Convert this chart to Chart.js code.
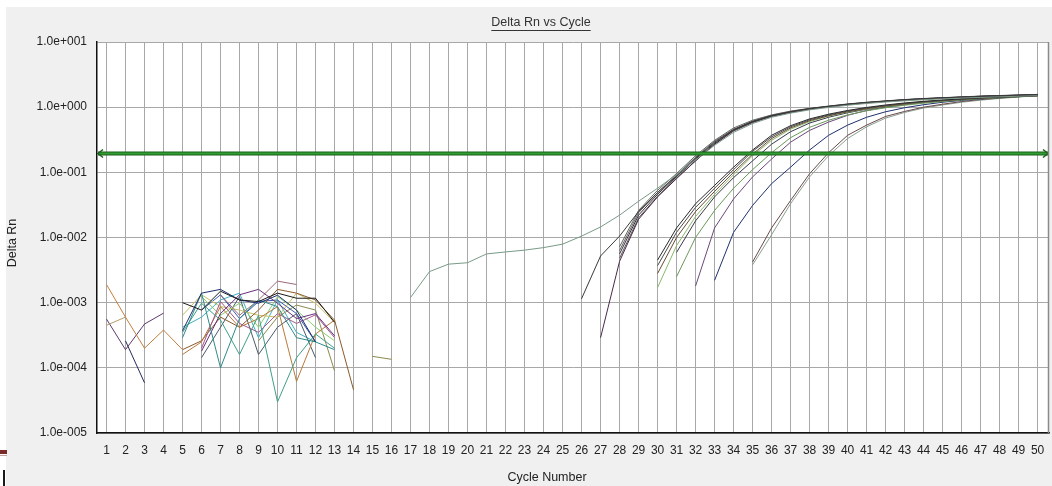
<!DOCTYPE html>
<html>
<head>
<meta charset="utf-8">
<script src="https://cdn.jsdelivr.net/npm/chart.js@4/dist/chart.umd.min.js"></script>
<style>
  html, body { margin: 0; padding: 0; background: #ffffff; }
  #c { display: block; }
</style>
</head>
<body>
<canvas id="c" width="1052" height="486"></canvas>
<script>
// ---- Axis ticks ----
const cycles = Array.from({ length: 50 }, (_, i) => i + 1);
const yTickValues = [1e-5, 1e-4, 1e-3, 1e-2, 1e-1, 1, 10];
const yTickLabels = ['1.0e-005', '1.0e-004', '1.0e-003', '1.0e-002', '1.0e-001', '1.0e+000', '1.0e+001'];
const threshold = 0.2;

// ---- Baseline noise traces (first cycle, then Delta Rn per cycle) ----
const noiseOrangeStart = 1, noiseOrange = [1.9e-3, 6.0e-4, 2.0e-4, 3.8e-4, 1.9e-4];
const noiseTanStart = 1, noiseTan = [4.5e-4, 6.0e-4];
const noisePlumStart = 1, noisePlum = [5.6e-4, 1.9e-4, 4.7e-4, 6.9e-4];
const noiseInkStart = 2, noiseInk = [2.6e-4, 5.9e-5];
const n01Start = 5, n01 = [1.0e-3, 7.7e-4, 1.5e-3, 1.1e-3, 1.04e-3, 1.4e-3, 1.17e-3, 1.17e-3, 5.0e-4];
const n02Start = 5, n02 = [3.7e-4, 1.4e-3, 1.6e-3, 1.1e-3, 9.8e-4, 1.3e-3, 7.7e-4, 2.5e-4];
const n03Start = 5, n03 = [2.9e-4, 1.4e-3, 1.0e-4, 5.7e-4, 1.1e-3, 8.7e-4, 2.9e-4, 2.5e-4, 1.9e-4];
const n04Start = 5, n04 = [3.5e-4, 9.8e-4, 5.4e-4, 1.6e-4, 6.4e-4, 3.0e-5, 1.43e-4, 3.3e-4, 2.0e-4];
const n05Start = 6, n05 = [1.8e-4, 6.8e-4, 1.32e-3, 1.6e-3, 9.8e-4, 5.7e-4, 6.8e-4, 3.1e-4];
const n06Start = 6, n06 = [2.0e-4, 1.04e-3, 4.8e-4, 3.5e-4, 6.8e-4, 4.8e-4, 6.5e-4, 2.9e-4];
const n07Start = 5, n07 = [1.6e-4, 2.5e-4, 8.7e-4, 4.2e-4, 5.7e-4, 8.7e-4, 6.2e-5, 3.3e-4, 5.4e-4];
const n08Start = 7, n08 = [1.32e-3, 6.4e-4, 1.1e-3, 2.14e-3, 1.9e-3];
const n09Start = 5, n09 = [1.9e-4, 2.6e-4, 6.0e-4, 4.2e-4, 7.7e-4, 1.6e-3, 1.4e-3, 1.1e-3, 5.4e-4, 4.6e-5];
const n10Start = 5, n10 = [6.4e-4, 1.32e-3, 8.7e-4, 7.7e-4, 6.4e-4, 6.0e-4, 1.4e-3, 9.8e-4, 5.0e-4];
const n11Start = 6, n11 = [1.24e-3, 6.4e-4, 9.8e-4, 4.2e-4, 1.24e-3, 7.7e-4, 4.2e-4, 2.6e-4];
const n12Start = 6, n12 = [7.7e-4, 1.32e-3, 5.7e-4, 1.04e-3, 1.1e-3, 6.8e-4, 2.5e-4];
const n13Start = 9, n13 = [2.6e-4, 6.0e-4, 9.2e-4, 7.7e-4, 9.0e-5];
const n14Start = 6, n14 = [1.43e-4, 4.2e-4, 1.24e-3, 1.6e-4, 4.2e-4, 6.8e-4, 1.43e-4];
const n15Start = 5, n15 = [4.2e-4, 6.0e-4, 1.1e-3, 1.4e-3, 2.9e-4, 1.1e-3, 3.5e-4, 2.5e-4];
const n16Start = 15, n16 = [1.5e-4, 1.35e-4];

// ---- Amplification curves ----
const ampEarlyStart = 17, ampEarly = [1.2e-3, 3.0e-3, 3.9e-3, 4.1e-3, 5.6e-3, 6.0e-3, 6.4e-3, 7.0e-3, 7.9e-3, 1.05e-2, 1.45e-2, 2.2e-2, 3.6e-2, 5.7e-2, 9.3e-2, 0.155, 0.26, 0.41, 0.56, 0.70, 0.81, 0.91, 0.99, 1.07, 1.14, 1.20, 1.25, 1.30, 1.34, 1.38, 1.41, 1.44, 1.47, 1.50];
const amp26Start = 26, amp26 = [1.15e-3, 5.2e-3, 1.05e-2, 2.5e-2, 4.9e-2, 8.8e-2, 0.165, 0.29, 0.45, 0.60, 0.74, 0.85, 0.95, 1.03, 1.11, 1.18, 1.24, 1.30, 1.35, 1.39, 1.43, 1.47, 1.50, 1.53, 1.56];
const amp27Start = 27, amp27 = [2.9e-4, 4.3e-3, 1.9e-2, 4.2e-2, 8.0e-2, 0.15, 0.27, 0.44, 0.59, 0.73, 0.84, 0.94, 1.02, 1.10, 1.17, 1.23, 1.29, 1.34, 1.38, 1.42, 1.46, 1.49, 1.52, 1.55];
const amp28aStart = 28, amp28a = [4.8e-3, 2.0e-2, 4.3e-2, 8.2e-2, 0.15, 0.27, 0.43, 0.58, 0.72, 0.83, 0.93, 1.01, 1.09, 1.16, 1.22, 1.28, 1.33, 1.37, 1.41, 1.45, 1.48, 1.51, 1.54];
const amp28bStart = 28, amp28b = [5.6e-3, 2.2e-2, 4.6e-2, 8.6e-2, 0.16, 0.28, 0.45, 0.60, 0.73, 0.84, 0.94, 1.02, 1.10, 1.17, 1.23, 1.29, 1.34, 1.38, 1.42, 1.46, 1.49, 1.52, 1.55];
const amp28cStart = 28, amp28c = [6.3e-3, 2.4e-2, 4.9e-2, 9.1e-2, 0.17, 0.30, 0.46, 0.61, 0.75, 0.86, 0.95, 1.03, 1.11, 1.18, 1.24, 1.30, 1.35, 1.39, 1.43, 1.47, 1.50, 1.53, 1.56];
const amp28dStart = 28, amp28d = [7.2e-3, 2.6e-2, 5.3e-2, 9.6e-2, 0.18, 0.31, 0.48, 0.63, 0.76, 0.87, 0.96, 1.04, 1.12, 1.19, 1.25, 1.31, 1.36, 1.40, 1.44, 1.48, 1.51, 1.54, 1.57];
const amp30aStart = 30, amp30a = [4.5e-3, 1.4e-2, 3.3e-2, 6.3e-2, 0.12, 0.22, 0.37, 0.52, 0.66, 0.78, 0.89, 0.99, 1.08, 1.16, 1.23, 1.29, 1.34, 1.39, 1.43, 1.47, 1.51];
const amp30bStart = 30, amp30b = [3.7e-3, 1.2e-2, 2.9e-2, 5.7e-2, 0.11, 0.21, 0.35, 0.50, 0.64, 0.76, 0.87, 0.97, 1.06, 1.14, 1.21, 1.27, 1.33, 1.38, 1.42, 1.46, 1.50];
const amp30cStart = 30, amp30c = [2.8e-3, 1.0e-2, 2.5e-2, 5.1e-2, 0.10, 0.19, 0.33, 0.48, 0.62, 0.74, 0.85, 0.95, 1.04, 1.12, 1.20, 1.26, 1.32, 1.37, 1.41, 1.45, 1.49];
const amp30dStart = 30, amp30d = [1.7e-3, 7.5e-3, 2.1e-2, 4.6e-2, 9.2e-2, 0.18, 0.31, 0.46, 0.60, 0.73, 0.84, 0.94, 1.03, 1.11, 1.19, 1.26, 1.32, 1.37, 1.41, 1.45, 1.49];
const amp31aStart = 31, amp31a = [5.9e-3, 1.8e-2, 4.2e-2, 8.3e-2, 0.15, 0.27, 0.42, 0.57, 0.70, 0.82, 0.93, 1.02, 1.11, 1.19, 1.26, 1.32, 1.37, 1.42, 1.46, 1.50];
const amp31bStart = 31, amp31b = [2.5e-3, 1.0e-2, 2.6e-2, 5.7e-2, 0.11, 0.20, 0.34, 0.49, 0.63, 0.76, 0.88, 0.98, 1.07, 1.15, 1.22, 1.29, 1.35, 1.40, 1.45, 1.50];
const amp32Start = 32, amp32 = [1.8e-3, 1.4e-2, 3.9e-2, 8.5e-2, 0.16, 0.29, 0.44, 0.59, 0.75, 0.89, 1.0, 1.1, 1.19, 1.27, 1.33, 1.39, 1.44, 1.48, 1.52];
const amp33Start = 33, amp33 = [2.2e-3, 1.2e-2, 3.1e-2, 6.7e-2, 0.12, 0.22, 0.37, 0.53, 0.70, 0.85, 0.98, 1.09, 1.19, 1.27, 1.34, 1.40, 1.45, 1.50];
const amp35aStart = 35, amp35a = [4.2e-3, 1.4e-2, 3.7e-2, 9.5e-2, 0.20, 0.37, 0.53, 0.72, 0.86, 1.0, 1.11, 1.22, 1.31, 1.38, 1.45, 1.52];
const amp35bStart = 35, amp35b = [3.8e-3, 1.1e-2, 3.3e-2, 8.5e-2, 0.18, 0.33, 0.50, 0.68, 0.83, 0.97, 1.08, 1.19, 1.28, 1.36, 1.43, 1.50];

// Turn a first cycle plus per-cycle readings into chart points
function trace(start, values) {
  return values.map((v, i) => ({ x: start + i, y: v }));
}
function line(start, values, color) {
  return {
    data: trace(start, values),
    borderColor: color,
    borderWidth: 1,
    pointRadius: 0,
    tension: 0,
    fill: false
  };
}

const datasets = [
  line(noiseOrangeStart, noiseOrange, '#c2803e'),
  line(noiseTanStart, noiseTan, '#b49c6a'),
  line(noisePlumStart, noisePlum, '#5c3a6c'),
  line(noiseInkStart, noiseInk, '#262a58'),
  line(n01Start, n01, '#1a1a1a'),
  line(n02Start, n02, '#1f2f6f'),
  line(n03Start, n03, '#2e8b8b'),
  line(n04Start, n04, '#3fa088'),
  line(n05Start, n05, '#6a2f7f'),
  line(n06Start, n06, '#a05a90'),
  line(n07Start, n07, '#b87a3a'),
  line(n08Start, n08, '#9a6a7a'),
  line(n09Start, n09, '#8a5a2a'),
  line(n10Start, n10, '#c8c064'),
  line(n11Start, n11, '#8ccf72'),
  line(n12Start, n12, '#3a5ab0'),
  line(n13Start, n13, '#8a8a50'),
  line(n14Start, n14, '#4a5a6a'),
  line(n15Start, n15, '#40b0c0'),
  line(n16Start, n16, '#8a8a4a'),
  line(ampEarlyStart, ampEarly, '#7a9a86'),
  line(amp26Start, amp26, '#3a3a3a'),
  line(amp27Start, amp27, '#4a2a4a'),
  line(amp28aStart, amp28a, '#555555'),
  line(amp28bStart, amp28b, '#333333'),
  line(amp28cStart, amp28c, '#6a5a6a'),
  line(amp28dStart, amp28d, '#5a6a5a'),
  line(amp30aStart, amp30a, '#2a2a2a'),
  line(amp30bStart, amp30b, '#4a4a4a'),
  line(amp30cStart, amp30c, '#6a4a32'),
  line(amp30dStart, amp30d, '#8ab86a'),
  line(amp31aStart, amp31a, '#3a3a4a'),
  line(amp31bStart, amp31b, '#6a9a5a'),
  line(amp32Start, amp32, '#6a4a7a'),
  line(amp33Start, amp33, '#1f3070'),
  line(amp35aStart, amp35a, '#6a4a4a'),
  line(amp35bStart, amp35b, '#8aa090')
];

const FONT = '"Liberation Sans", Arial, sans-serif';

// Panel backgrounds, captions, threshold marker and frame
const decor = {
  id: 'decor',
  beforeDraw(chart) {
    const ctx = chart.ctx, a = chart.chartArea;
    ctx.save();
    ctx.fillStyle = '#ffffff';
    ctx.fillRect(0, 0, chart.width, chart.height);
    ctx.fillStyle = '#f0f0f0';
    ctx.fillRect(6, 7, chart.width - 6, chart.height - 7);
    ctx.fillStyle = '#ffffff';
    ctx.fillRect(a.left, a.top, a.right - a.left, a.bottom - a.top);
    // small marks at the lower-left edge
    ctx.fillStyle = '#7b2a2a';
    ctx.fillRect(0, 450, 7, 4);
    ctx.fillStyle = '#c9a0a0';
    ctx.fillRect(0, 455, 7, 1);
    ctx.fillStyle = '#1a1a1a';
    ctx.fillRect(3, 470, 2, 16);
    ctx.restore();
  },
  afterDatasetsDraw(chart) {
    const ctx = chart.ctx, a = chart.chartArea;
    const y = Math.round(chart.scales.y.getPixelForValue(threshold)) + 0.5;
    ctx.save();
    ctx.strokeStyle = '#1d5e1d';
    ctx.lineWidth = 4;
    ctx.beginPath(); ctx.moveTo(a.left + 1, y); ctx.lineTo(a.right - 1, y); ctx.stroke();
    ctx.strokeStyle = '#2e9e2e';
    ctx.lineWidth = 2;
    ctx.beginPath(); ctx.moveTo(a.left + 1, y); ctx.lineTo(a.right - 1, y); ctx.stroke();
    // arrowheads
    ctx.strokeStyle = '#1d5e1d';
    ctx.lineWidth = 1.5;
    ctx.beginPath();
    ctx.moveTo(a.left + 6, y - 4); ctx.lineTo(a.left + 1, y); ctx.lineTo(a.left + 6, y + 4);
    ctx.moveTo(a.right - 6, y - 4); ctx.lineTo(a.right - 1, y); ctx.lineTo(a.right - 6, y + 4);
    ctx.stroke();
    ctx.restore();
  },
  afterDraw(chart) {
    const ctx = chart.ctx, a = chart.chartArea;
    ctx.save();
    // right frame edge
    ctx.strokeStyle = '#8a8a8a';
    ctx.lineWidth = 1.5;
    ctx.beginPath(); ctx.moveTo(a.right - 0.5, a.top); ctx.lineTo(a.right - 0.5, a.bottom); ctx.stroke();
    // chart title, underlined
    ctx.fillStyle = '#333333';
    ctx.font = '12.5px ' + FONT;
    ctx.textAlign = 'center';
    ctx.textBaseline = 'middle';
    const title = 'Delta Rn vs Cycle';
    const tx = 541, ty = 23;
    ctx.fillText(title, tx, ty);
    const w = ctx.measureText(title).width;
    ctx.strokeStyle = '#333333';
    ctx.lineWidth = 1;
    ctx.beginPath(); ctx.moveTo(tx - w / 2, ty + 7.5); ctx.lineTo(tx + w / 2, ty + 7.5); ctx.stroke();
    // axis captions
    ctx.fillStyle = '#222222';
    ctx.fillText('Cycle Number', 547, 478);
    ctx.translate(13, 243);
    ctx.rotate(-Math.PI / 2);
    ctx.fillText('Delta Rn', 0, 0);
    ctx.restore();
  }
};

new Chart(document.getElementById('c'), {
  type: 'line',
  data: { datasets },
  options: {
    responsive: false,
    devicePixelRatio: 1,
    animation: false,
    events: [],
    spanGaps: false,
    layout: { padding: { left: 6, right: 3, top: 42, bottom: 0 } },
    plugins: { legend: { display: false }, title: { display: false }, tooltip: { enabled: false } },
    scales: {
      x: {
        type: 'linear',
        min: 0.5,
        max: 50.6,
        afterBuildTicks(scale) { scale.ticks = cycles.map(v => ({ value: v })); },
        afterFit(scale) {
          scale.height = 53;
          scale.paddingLeft = 0;
          scale.paddingRight = 0;
        },
        ticks: {
          autoSkip: false,
          maxRotation: 0,
          padding: 10,
          color: '#222222',
          font: { family: FONT, size: 12 },
          callback: (v) => String(v)
        },
        grid: { color: '#a8a8a8', lineWidth: 1, drawTicks: false },
        border: { display: true, color: '#111111', width: 1.5 }
      },
      y: {
        type: 'logarithmic',
        min: 1e-5,
        max: 10,
        afterBuildTicks(scale) { scale.ticks = yTickValues.map(v => ({ value: v })); },
        afterFit(scale) {
          scale.width = 91;
          scale.paddingTop = 0;
          scale.paddingBottom = 0;
        },
        ticks: {
          autoSkip: false,
          padding: 10,
          color: '#222222',
          font: { family: FONT, size: 12 },
          callback: (v, i) => yTickLabels[i]
        },
        grid: { color: '#a8a8a8', lineWidth: 1, drawTicks: false },
        border: { display: true, color: '#111111', width: 1.5 }
      }
    }
  },
  plugins: [decor]
});
</script>
</body>
</html>
